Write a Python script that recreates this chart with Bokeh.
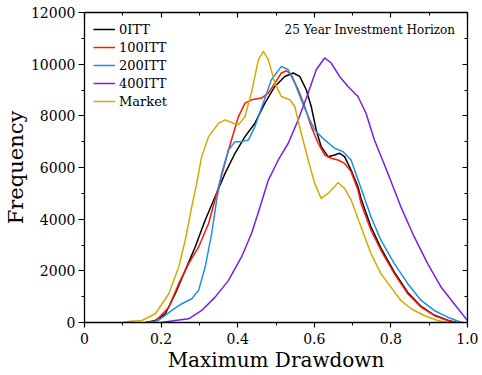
from bokeh.plotting import figure
from bokeh.models import (LinearAxis, FixedTicker, Range1d, Legend, LegendItem, Label)
from bokeh.embed import file_html
from bokeh.resources import INLINE

# ---- data ----
x_0itt = [0.16, 0.185, 0.211, 0.237, 0.263, 0.289, 0.315, 0.341, 0.367, 0.393, 0.419, 0.445,
          0.471, 0.497, 0.523, 0.545, 0.562, 0.579, 0.592, 0.605, 0.618, 0.636, 0.653, 0.666,
          0.679, 0.696, 0.714, 0.722, 0.748, 0.774, 0.809, 0.844, 0.879, 0.913, 0.948, 0.97]
y_0itt = [0, 78, 338, 1114, 2019, 2924, 3961, 4866, 5774, 6551, 7195, 7715,
          8492, 9137, 9525, 9657, 9525, 9009, 8362, 7455, 6807, 6419, 6485, 6551,
          6419, 5902, 5254, 4800, 3700, 2880, 1950, 1160, 620, 290, 85, 0]

x_100itt = [0.16, 0.185, 0.220, 0.246, 0.272, 0.298, 0.324, 0.350, 0.376, 0.402, 0.419, 0.436,
            0.462, 0.480, 0.497, 0.514, 0.527, 0.540, 0.558, 0.575, 0.592, 0.610, 0.627, 0.644,
            0.662, 0.679, 0.696, 0.714, 0.722, 0.748, 0.774, 0.809, 0.844, 0.879, 0.913, 0.948,
            0.97]
y_100itt = [0, 50, 594, 1503, 2279, 2924, 3832, 5254, 6679, 7972, 8492, 8620,
            8686, 8880, 9268, 9657, 9746, 9590, 9009, 8362, 7583, 6939, 6485, 6357,
            6291, 6162, 5840, 5126, 4609, 3572, 2796, 1891, 1114, 594, 272, 78,
            0]

x_200itt = [0.17, 0.193, 0.228, 0.254, 0.280, 0.298, 0.315, 0.332, 0.345, 0.358, 0.376, 0.393,
            0.410, 0.428, 0.445, 0.462, 0.488, 0.514, 0.532, 0.549, 0.566, 0.584, 0.601, 0.627,
            0.653, 0.675, 0.696, 0.722, 0.748, 0.774, 0.809, 0.844, 0.879, 0.913, 0.948, 0.983,
            0.99]
y_200itt = [0, 78, 466, 726, 920, 1243, 2147, 3444, 4737, 5774, 6679, 7001,
            7001, 7067, 7584, 8300, 9396, 9913, 9785, 9268, 8620, 7972, 7455, 7067,
            6745, 6613, 6291, 5200, 4089, 3184, 2279, 1503, 854, 466, 206, 12,
            0]

x_400itt = [0.20, 0.237, 0.272, 0.306, 0.341, 0.376, 0.410, 0.436, 0.454, 0.480, 0.506, 0.532,
            0.558, 0.584, 0.605, 0.627, 0.644, 0.666, 0.688, 0.714, 0.735, 0.757, 0.792, 0.826,
            0.861, 0.896, 0.931, 0.965, 1.0]
y_400itt = [0, 78, 143, 466, 983, 1631, 2536, 3444, 4270, 5514, 6291, 6939,
            7844, 8880, 9785, 10240, 10045, 9525, 9137, 8749, 8100, 7067, 5774, 4477,
            3312, 2279, 1371, 726, 78]

x_market = [0.10, 0.12, 0.15, 0.185, 0.220, 0.246, 0.263, 0.280, 0.293, 0.306, 0.324, 0.350,
            0.367, 0.389, 0.402, 0.419, 0.436, 0.454, 0.467, 0.480, 0.497, 0.514, 0.536, 0.549,
            0.566, 0.584, 0.601, 0.618, 0.636, 0.662, 0.679, 0.696, 0.722, 0.748, 0.774, 0.800,
            0.826, 0.853, 0.887, 0.922, 0.948]
y_market = [0, 50, 78, 338, 1114, 2147, 3184, 4477, 5386, 6419, 7195, 7715,
            7844, 7715, 7650, 7972, 8900, 10174, 10496, 10174, 9268, 8750, 8620, 8362,
            7327, 6291, 5386, 4803, 4997, 5409, 5192, 4750, 3700, 2667, 1891, 1371,
            854, 532, 272, 78, 0]

x_ticks = [0, 0.2, 0.4, 0.6, 0.8, 1.0]
x_minor = [0.1, 0.3, 0.5, 0.7, 0.9]
y_ticks = [0, 2000, 4000, 6000, 8000, 10000, 12000]
y_minor = [1000, 3000, 5000, 7000, 9000, 11000]

series = [
    ("0ITT", x_0itt, y_0itt, "#000000"),
    ("100ITT", x_100itt, y_100itt, "#ff1a00"),
    ("200ITT", x_200itt, y_200itt, "#1e8fe6"),
    ("400ITT", x_400itt, y_400itt, "#7a1ee6"),
    ("Market", x_market, y_market, "#d4aa00"),
]

FONT = "DejaVu Serif"

p = figure(width=478, height=374, output_backend="svg", toolbar_location=None,
           x_range=Range1d(0, 1), y_range=Range1d(0, 12000),
           min_border_left=82, min_border_right=11, min_border_top=12, min_border_bottom=52)
p.grid.visible = False
p.outline_line_color = None
p.background_fill_color = "white"
p.border_fill_color = "white"

renderers = []
for name, xs, ys, col in series:
    r = p.line(xs, ys, line_color=col, line_width=1.5, line_join="round")
    renderers.append((name, r))

def style_axis(ax, show_labels, tin, tout, mout, minn):
    ax.axis_line_color = "black"
    ax.axis_line_width = 1.3
    ax.major_tick_line_color = "black"
    ax.minor_tick_line_color = "black"
    ax.major_tick_line_width = 1.2
    ax.minor_tick_line_width = 1.0
    ax.major_tick_in = tin
    ax.major_tick_out = tout
    ax.minor_tick_in = minn
    ax.minor_tick_out = mout
    ax.major_label_text_font = FONT
    ax.major_label_text_font_size = "14px"
    ax.major_label_text_color = "black"
    ax.axis_label_text_font = FONT
    ax.axis_label_text_font_style = "normal"
    ax.axis_label_text_color = "black"
    if not show_labels:
        ax.major_label_standoff = 0
        ax.major_label_text_font_size = "0px"
        ax.major_label_text_color = None

xb = p.xaxis[0]
xb.ticker = FixedTicker(ticks=x_ticks, minor_ticks=x_minor)
xb.major_label_overrides = {0: "0", 1: "1.0"}
xb.major_label_standoff = 5
xb.axis_label = "Maximum Drawdown"
xb.axis_label_text_font_size = "20px"
xb.axis_label_standoff = 1
style_axis(xb, True, 0, 5, 3, 0)

yl = p.yaxis[0]
yl.ticker = FixedTicker(ticks=y_ticks, minor_ticks=y_minor)
yl.major_label_standoff = 3
yl.axis_label = "Frequency"
yl.axis_label_text_font_size = "21px"
yl.axis_label_standoff = 0
style_axis(yl, True, 0, 6, 3, 0)

xt = LinearAxis(ticker=FixedTicker(ticks=x_ticks, minor_ticks=x_minor),
                major_label_overrides={t: "" for t in x_ticks})
style_axis(xt, False, 5, 0, 0, 3)
p.add_layout(xt, "above")

yr = LinearAxis(ticker=FixedTicker(ticks=y_ticks, minor_ticks=y_minor),
                major_label_overrides={t: "" for t in y_ticks})
style_axis(yr, False, 5, 0, 0, 3)
p.add_layout(yr, "right")

legend = Legend(items=[LegendItem(label=n, renderers=[r]) for n, r in renderers],
                location="top_left")
legend.border_line_color = None
legend.background_fill_alpha = 0
legend.label_text_font = FONT
legend.label_text_font_size = "13px"
legend.label_text_color = "black"
legend.glyph_width = 22
legend.glyph_height = 16
legend.label_height = 16
legend.spacing = 2
legend.margin = 9
legend.padding = 1
legend.label_standoff = 4
p.add_layout(legend)

p.add_layout(Label(x=0.745, y=11340, text="25 Year Investment Horizon",
                   text_font=FONT, text_font_size="12px", text_align="center",
                   text_baseline="middle", text_color="black"))

open("out.html", "w").write(file_html(p, INLINE))
